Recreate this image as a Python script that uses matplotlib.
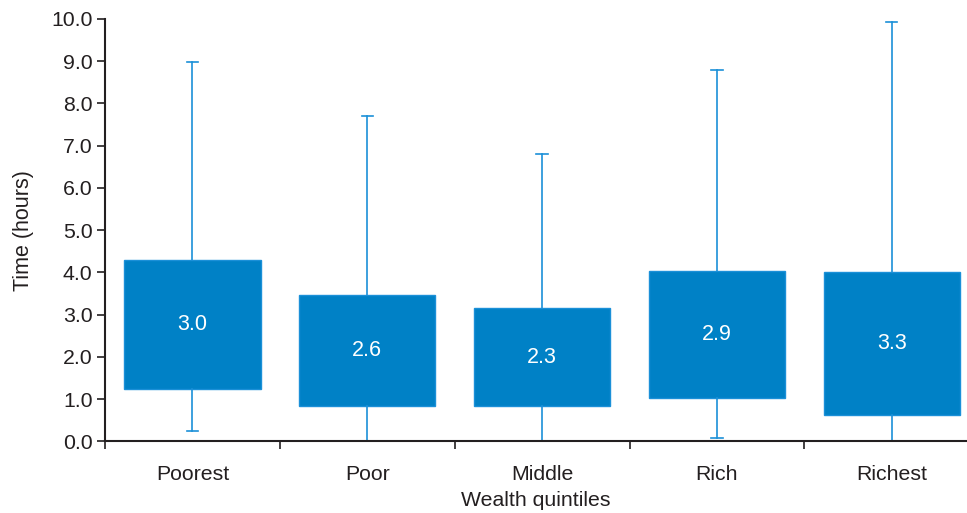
import matplotlib
matplotlib.use("Agg")
import matplotlib.pyplot as plt

plt.rcParams['font.family'] = ['Liberation Sans', 'DejaVu Sans']

# Data (hours)
categories = ['Poorest', 'Poor', 'Middle', 'Rich', 'Richest']
q1 = [1.23, 0.85, 0.83, 1.04, 0.62]
q3 = [4.30, 3.46, 3.15, 4.04, 4.00]
whis_low = [0.24, 0.0, 0.0, 0.08, 0.0]
whis_high = [8.99, 7.70, 6.80, 8.79, 9.92]
medians = [3.0, 2.6, 2.3, 2.9, 3.3]

box_color = '#0081c6'
line_color = '#1b90d8'
text_color = '#231f20'

fig = plt.figure(figsize=(9.67, 5.13), dpi=100)
ax = fig.add_axes([0.1086, 0.1395, 0.8914, 0.8235])

stats = []
for i in range(len(categories)):
    stats.append({'q1': q1[i], 'q3': q3[i], 'med': medians[i],
                  'whislo': whis_low[i], 'whishi': whis_high[i],
                  'label': categories[i]})

positions = list(range(len(categories)))
ax.bxp(stats, positions=positions, widths=0.78, patch_artist=True,
       showfliers=False, capwidths=0.065,
       boxprops=dict(facecolor=box_color, edgecolor=line_color, linewidth=1.0),
       whiskerprops=dict(color=line_color, linewidth=1.2),
       capprops=dict(color=line_color, linewidth=1.2),
       medianprops=dict(visible=False))

# median values printed in the middle of each box
for i, m in enumerate(medians):
    ax.text(i, (q1[i] + q3[i]) / 2, f'{m:.1f}', ha='center', va='center',
            color='white', fontsize=15.5)

ax.set_ylim(0, 10)
ax.set_xlim(-0.5, 4.43)
ax.set_yticks([i for i in range(11)])
ax.set_yticklabels([f'{i:.1f}' for i in range(11)])
ax.set_xticks(positions)
ax.set_xticklabels(categories)
ax.set_xticks([0.5 + i for i in range(-1, 4)], minor=True)
ax.tick_params(axis='x', which='major', length=0, pad=17, labelsize=15.3, labelcolor=text_color)
ax.tick_params(axis='x', which='minor', length=6, width=1.2, direction='out', color=text_color)
ax.tick_params(axis='y', length=6, width=1.2, direction='out', labelsize=15.3,
               labelcolor=text_color, color=text_color, pad=3)

for side in ['top', 'right']:
    ax.spines[side].set_visible(False)
for side in ['left', 'bottom']:
    ax.spines[side].set_color(text_color)
    ax.spines[side].set_linewidth(1.5)

ax.set_xlabel('Wealth quintiles', fontsize=15.3, color=text_color, labelpad=5)
ax.set_ylabel('Time (hours)', fontsize=15.5, color=text_color, labelpad=12)

fig.savefig('out.png', dpi=100)
